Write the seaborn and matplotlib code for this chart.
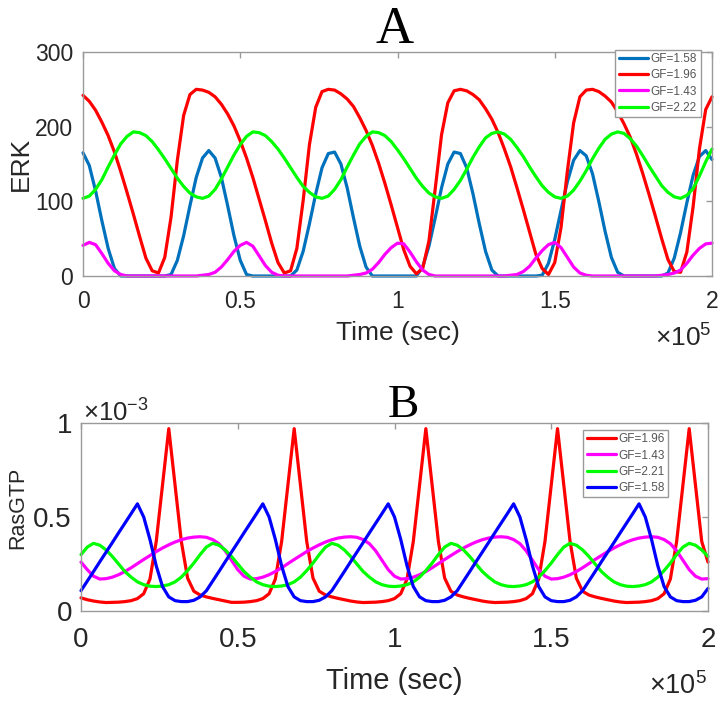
import numpy as np
import pandas as pd
import matplotlib
matplotlib.use("Agg")
import matplotlib.pyplot as plt
import seaborn as sns

# time in units of 1e5 s, values every 0.02
time = np.linspace(0, 2.0, 101)

# panel A : ERK
gf_A = ['GF=1.58', 'GF=1.96', 'GF=1.43', 'GF=2.22']
erk_158 = [165, 148, 114, 74, 37, 10, 0, 0, 0, 0,
           0, 0, 0, 0, 2, 21, 54, 94, 132, 158,
           168, 158, 132, 94, 54, 21, 2, 0, 0, 0,
           0, 0, 0, 0, 8, 33, 70, 110, 145, 164,
           166, 150, 118, 78, 40, 12, 0, 0, 0, 0,
           0, 0, 0, 0, 12, 40, 78, 118, 150, 166,
           164, 145, 110, 70, 33, 8, 0, 0, 0, 0,
           0, 0, 0, 1, 17, 49, 88, 126, 155, 168,
           161, 137, 100, 60, 25, 5, 0, 0, 0, 0,
           0, 0, 0, 4, 24, 58, 98, 135, 160, 168,
           156]
erk_196 = [242, 234, 222, 206, 188, 166, 140, 112, 83, 53,
           24, 7, 4, 25, 79, 155, 215, 243, 250, 249,
           246, 240, 230, 217, 201, 181, 158, 132, 103, 74,
           44, 18, 4, 7, 37, 101, 176, 226, 247, 250,
           249, 244, 237, 227, 212, 195, 175, 151, 124, 95,
           65, 35, 13, 3, 10, 47, 117, 189, 232, 248,
           250, 248, 243, 236, 224, 210, 192, 170, 146, 118,
           89, 59, 29, 10, 2, 18, 65, 140, 205, 240,
           249, 250, 247, 241, 233, 220, 204, 186, 163, 137,
           109, 80, 50, 22, 6, 5, 32, 93, 170, 223,
           240]
erk_143 = [41, 45, 42, 30, 17, 7, 2, 0, 0, 0,
           0, 0, 0, 0, 0, 0, 0, 0, 0, 1,
           2, 5, 12, 22, 33, 41, 45, 40, 27, 14,
           5, 1, 0, 0, 0, 0, 0, 0, 0, 0,
           0, 0, 0, 1, 2, 4, 9, 18, 29, 38,
           44, 43, 32, 19, 8, 2, 0, 0, 0, 0,
           0, 0, 0, 0, 0, 0, 0, 0, 1, 2,
           6, 13, 24, 34, 42, 45, 38, 25, 12, 4,
           1, 0, 0, 0, 0, 0, 0, 0, 0, 0,
           0, 0, 1, 2, 4, 8, 17, 28, 37, 43,
           44]
erk_222 = [104, 107, 116, 129, 146, 162, 177, 187, 193, 192,
           188, 180, 169, 157, 144, 131, 120, 111, 106, 104,
           107, 116, 130, 146, 162, 176, 187, 193, 192, 188,
           180, 170, 158, 145, 132, 120, 112, 106, 104, 107,
           116, 129, 146, 162, 177, 187, 193, 192, 188, 180,
           169, 157, 144, 131, 120, 111, 106, 104, 107, 116,
           128, 143, 159, 173, 185, 191, 193, 190, 183, 172,
           160, 146, 133, 121, 112, 106, 104, 107, 115, 127,
           141, 157, 171, 183, 190, 193, 191, 184, 174, 161,
           147, 134, 121, 112, 106, 104, 108, 117, 134, 153,
           170]

# panel B : RasGTP (units of 1e-3)
gf_B = ['GF=1.96', 'GF=1.43', 'GF=2.21', 'GF=1.58']
ras_196 = [0.07, 0.06, 0.053, 0.048, 0.045, 0.046, 0.047, 0.05, 0.055, 0.066,
           0.092, 0.17, 0.37, 0.67, 0.97, 0.67, 0.37, 0.175, 0.105, 0.085,
           0.075, 0.067, 0.06, 0.053, 0.046, 0.046, 0.047, 0.05, 0.055, 0.066,
           0.092, 0.17, 0.37, 0.67, 0.97, 0.67, 0.37, 0.175, 0.105, 0.085,
           0.075, 0.067, 0.06, 0.053, 0.048, 0.045, 0.046, 0.047, 0.05, 0.055,
           0.066, 0.092, 0.17, 0.37, 0.67, 0.97, 0.67, 0.37, 0.175, 0.105,
           0.085, 0.075, 0.067, 0.06, 0.053, 0.048, 0.045, 0.046, 0.047, 0.05,
           0.055, 0.066, 0.092, 0.17, 0.37, 0.67, 0.97, 0.67, 0.37, 0.175,
           0.105, 0.085, 0.075, 0.067, 0.06, 0.053, 0.048, 0.045, 0.046, 0.047,
           0.05, 0.055, 0.066, 0.092, 0.17, 0.37, 0.67, 0.97, 0.67, 0.37,
           0.26]
ras_143 = [0.26, 0.22, 0.185, 0.17, 0.172, 0.18, 0.193, 0.21, 0.23, 0.252,
           0.274, 0.295, 0.316, 0.335, 0.352, 0.367, 0.379, 0.388, 0.393, 0.395,
           0.392, 0.38, 0.358, 0.32, 0.27, 0.22, 0.185, 0.17, 0.172, 0.18,
           0.193, 0.21, 0.23, 0.252, 0.274, 0.295, 0.316, 0.335, 0.352, 0.367,
           0.379, 0.388, 0.393, 0.395, 0.392, 0.38, 0.358, 0.32, 0.27, 0.22,
           0.185, 0.17, 0.172, 0.18, 0.193, 0.21, 0.23, 0.252, 0.274, 0.295,
           0.316, 0.335, 0.352, 0.367, 0.379, 0.388, 0.393, 0.395, 0.392, 0.38,
           0.358, 0.32, 0.27, 0.22, 0.185, 0.17, 0.172, 0.18, 0.193, 0.21,
           0.23, 0.252, 0.274, 0.295, 0.316, 0.335, 0.352, 0.367, 0.379, 0.388,
           0.393, 0.395, 0.392, 0.38, 0.358, 0.32, 0.27, 0.22, 0.185, 0.17,
           0.172]
ras_221 = [0.30, 0.34, 0.36, 0.35, 0.325, 0.29, 0.25, 0.21, 0.18, 0.155,
           0.14, 0.132, 0.13, 0.133, 0.14, 0.155, 0.18, 0.215, 0.255, 0.30,
           0.34, 0.36, 0.35, 0.325, 0.29, 0.25, 0.21, 0.18, 0.155, 0.14,
           0.132, 0.13, 0.133, 0.14, 0.155, 0.18, 0.215, 0.255, 0.30, 0.34,
           0.36, 0.35, 0.325, 0.29, 0.25, 0.21, 0.18, 0.155, 0.14, 0.132,
           0.13, 0.133, 0.14, 0.155, 0.18, 0.215, 0.255, 0.30, 0.34, 0.36,
           0.35, 0.325, 0.29, 0.25, 0.21, 0.18, 0.155, 0.14, 0.132, 0.13,
           0.133, 0.14, 0.155, 0.18, 0.215, 0.255, 0.30, 0.34, 0.36, 0.35,
           0.325, 0.29, 0.25, 0.21, 0.18, 0.155, 0.14, 0.132, 0.13, 0.133,
           0.14, 0.155, 0.18, 0.215, 0.255, 0.30, 0.34, 0.36, 0.35, 0.325,
           0.29]
ras_158 = [0.108, 0.159, 0.21, 0.262, 0.313, 0.364, 0.416, 0.467, 0.518, 0.57,
           0.50, 0.38, 0.24, 0.13, 0.075, 0.055, 0.05, 0.05, 0.057, 0.075,
           0.108, 0.159, 0.21, 0.262, 0.313, 0.364, 0.416, 0.467, 0.518, 0.57,
           0.50, 0.38, 0.24, 0.13, 0.075, 0.055, 0.05, 0.05, 0.057, 0.075,
           0.108, 0.159, 0.21, 0.262, 0.313, 0.364, 0.416, 0.467, 0.518, 0.57,
           0.50, 0.38, 0.24, 0.13, 0.075, 0.055, 0.05, 0.05, 0.057, 0.075,
           0.108, 0.159, 0.21, 0.262, 0.313, 0.364, 0.416, 0.467, 0.518, 0.57,
           0.50, 0.38, 0.24, 0.13, 0.075, 0.055, 0.05, 0.05, 0.057, 0.075,
           0.108, 0.159, 0.21, 0.262, 0.313, 0.364, 0.416, 0.467, 0.518, 0.57,
           0.50, 0.38, 0.24, 0.13, 0.075, 0.055, 0.05, 0.05, 0.057, 0.075,
           0.12]

xticks = [0, 0.5, 1, 1.5, 2]
xticklabels = ['0', '0.5', '1', '1.5', '2']

colors_A = {'GF=1.58': '#0072bd', 'GF=1.96': '#ff0000',
            'GF=1.43': '#ff00ff', 'GF=2.22': '#00ff00'}
colors_B = {'GF=1.96': '#ff0000', 'GF=1.43': '#ff00ff',
            'GF=2.21': '#00ff00', 'GF=1.58': '#0000ff'}

dfA = pd.DataFrame({'time': np.tile(time, 4),
                    'ERK': np.concatenate([erk_158, erk_196, erk_143, erk_222]),
                    'GF': np.repeat(gf_A, len(time))})
dfB = pd.DataFrame({'time': np.tile(time, 4),
                    'RasGTP': np.concatenate([ras_196, ras_143, ras_221, ras_158]),
                    'GF': np.repeat(gf_B, len(time))})

sns.set_theme(style="white")
plt.rcParams['font.family'] = ['Liberation Sans', 'DejaVu Sans']
plt.rcParams['mathtext.default'] = 'regular'

edge = '#9a9a9a'
txt = '#262626'
W, H = 723, 701

fig = plt.figure(figsize=(7.23, 7.01), dpi=100)
axA = fig.add_axes([83 / W, 1 - 276 / H, 629 / W, 224 / H])
axB = fig.add_axes([81 / W, 1 - 611 / H, 627 / W, 188 / H])

sns.lineplot(data=dfA, x='time', y='ERK', hue='GF', hue_order=gf_A,
             palette=colors_A, lw=2.3, ax=axA, clip_on=False)
sns.lineplot(data=dfB, x='time', y='RasGTP', hue='GF', hue_order=gf_B,
             palette=colors_B, lw=2.3, ax=axB, clip_on=False)

def style(ax, tsize, xpad, ypad, lsize, lpad):
    ax.set_xlim(0, 2)
    ax.set_xticks(xticks)
    ax.set_xticklabels(xticklabels)
    for s in ax.spines.values():
        s.set_color(edge)
        s.set_linewidth(1.0)
    ax.tick_params(direction='in', top=True, right=True, length=4,
                   width=1, color=edge, labelcolor=txt, labelsize=tsize)
    ax.tick_params(axis='x', pad=xpad)
    ax.tick_params(axis='y', pad=ypad)
    ax.set_xlabel('Time (sec)', fontsize=lsize, color=txt, labelpad=lpad)

style(axA, 16.5, 10, 7, 19, 6)
axA.set_ylim(0, 300)
axA.set_yticks([0, 100, 200, 300])
axA.set_ylabel('ERK', fontsize=19, color=txt, labelpad=1.5)

style(axB, 20, 11.5, 6.5, 21, 10)
axB.set_ylim(0, 1)
axB.set_yticks([0, 0.5, 1])
axB.set_yticklabels(['0', '0.5', '1'])
axB.set_ylabel('RasGTP', fontsize=15.5, color=txt, labelpad=3.5)
axB.yaxis.label.set_y(0.55)

for ax, anchor in [(axA, (0.982, 1.01)), (axB, (0.937, 0.963))]:
    h, l = ax.get_legend_handles_labels()
    leg = ax.legend(h, l, loc='upper right', bbox_to_anchor=anchor,
                    fontsize=8.5, handlelength=2.5, handletextpad=0.2,
                    borderpad=0.3, labelspacing=0.35, borderaxespad=0,
                    fancybox=False, framealpha=1, edgecolor=edge,
                    labelcolor='#555555')
    leg.get_frame().set_linewidth(1.0)

# panel titles and axis multipliers
fig.text(395 / W, 1 - 43 / H, 'A', family='Liberation Serif', fontsize=38,
         ha='center', va='baseline', color='black')
fig.text(403 / W, 1 - 417 / H, 'B', family='Liberation Serif', fontsize=34,
         ha='center', va='baseline', color='black')
fig.text(712 / W, 1 - 338 / H, r'$\times$10$^{5}$', fontsize=19,
         ha='right', va='center', color=txt)
fig.text(707 / W, 1 - 694 / H, r'$\times$10$^{5}$', fontsize=19.5,
         ha='right', va='baseline', color=txt)
fig.text(83 / W, 1 - 413 / H, r'$\times$10$^{-3}$', fontsize=18.5,
         ha='left', va='center', color=txt)

fig.savefig('out.png', dpi=100)
